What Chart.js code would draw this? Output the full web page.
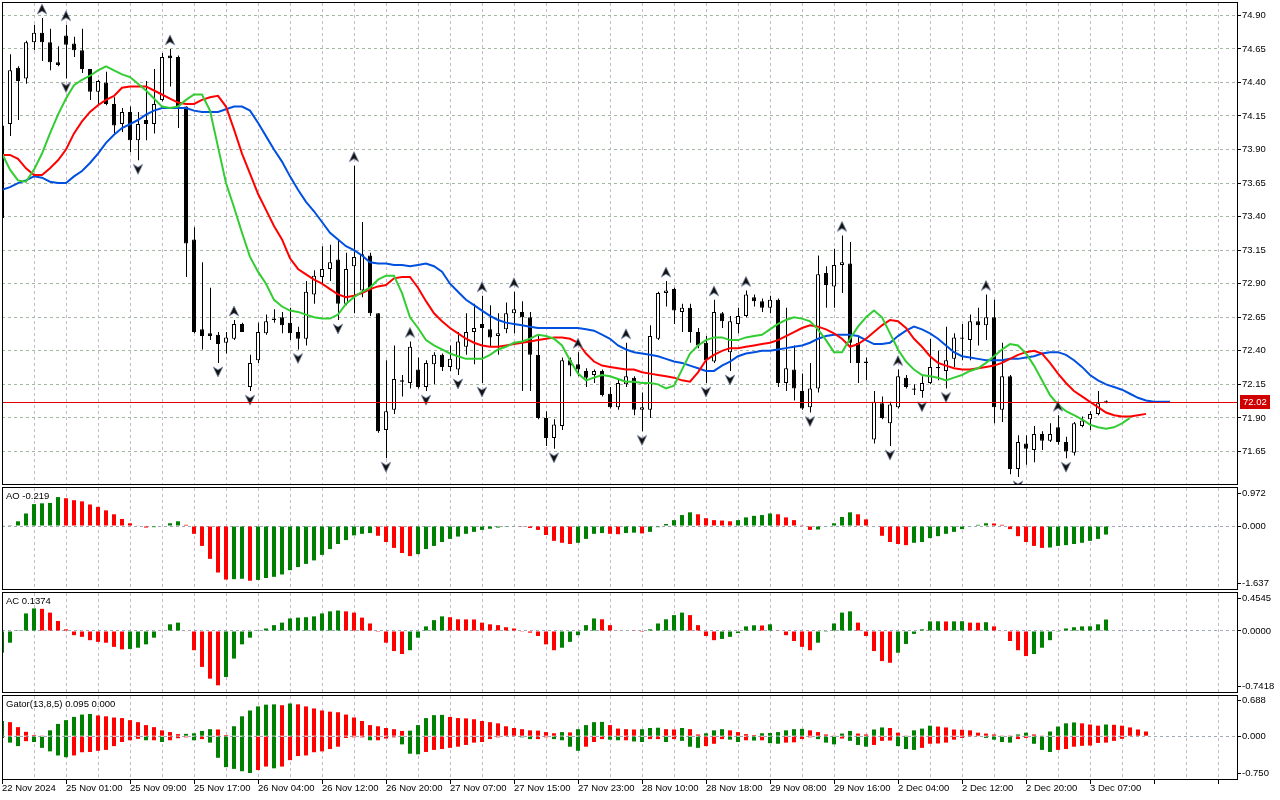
<!DOCTYPE html>
<html>
<head>
<meta charset="utf-8">
<title>Brent H1 - Alligator, Fractals, AO, AC, Gator</title>
<style>
  html, body { margin: 0; padding: 0; background: #fff; }
  body { width: 1280px; height: 800px; position: relative; overflow: hidden; }
  canvas { position: absolute; left: 0; }
</style>
<script src="https://cdn.jsdelivr.net/npm/chart.js@4.4.1/dist/chart.umd.min.js"></script>
</head>
<body>
<canvas id="main" width="1280" height="487" style="top:0"></canvas>
<canvas id="ao" width="1280" height="105" style="top:487px"></canvas>
<canvas id="ac" width="1280" height="102" style="top:592px"></canvas>
<canvas id="gator" width="1280" height="106" style="top:694px"></canvas>
<script>
// ---- data ----
const timeLabels = ['22 Nov 2024','25 Nov 01:00','25 Nov 09:00','25 Nov 17:00','26 Nov 04:00','26 Nov 12:00',
  '26 Nov 20:00','27 Nov 07:00','27 Nov 15:00','27 Nov 23:00','28 Nov 10:00','28 Nov 18:00',
  '29 Nov 08:00','29 Nov 16:00','2 Dec 04:00','2 Dec 12:00','2 Dec 20:00','3 Dec 07:00'];

const priceTicks = [74.90,74.65,74.40,74.15,73.90,73.65,73.40,73.15,72.90,72.65,72.40,72.15,71.90,71.65];

const open = [73.39,74.09,74.51,74.43,74.70,74.77,74.70,74.55,74.75,74.69,
  74.64,74.50,74.33,74.40,74.24,74.09,74.18,73.97,74.12,74.09,
  74.27,74.60,74.59,74.22,73.23,72.56,72.53,72.52,72.46,72.49,
  72.60,72.13,72.33,72.53,72.64,72.65,72.61,72.54,72.49,72.82,
  72.95,73.01,73.08,72.75,73.03,72.85,73.11,72.68,71.81,71.96,
  72.18,72.16,72.26,72.13,72.30,72.37,72.28,72.26,72.43,72.54,
  72.60,72.56,72.51,72.56,72.68,72.69,72.65,72.37,71.90,71.75,
  71.84,72.33,72.30,72.25,72.22,72.25,72.08,71.98,72.15,72.20,
  71.96,71.96,72.49,72.83,72.86,72.69,72.72,72.54,72.46,72.32,
  72.68,72.39,72.60,72.66,72.80,72.77,72.72,72.78,72.16,72.26,
  72.10,71.98,72.12,72.98,72.88,73.04,73.05,72.46,72.32,71.74,
  72.01,71.86,71.98,72.20,72.12,72.10,72.16,72.27,72.25,72.34,
  72.50,72.48,72.62,72.59,72.65,71.96,72.21,71.52,71.71,71.66,
  71.78,71.73,71.83,71.72,71.64,71.84,71.89,71.93,72.02];
const high = [74.15,74.61,74.52,74.71,74.83,74.88,74.80,74.67,74.83,74.74,
  74.80,74.50,74.42,74.48,74.29,74.21,74.22,74.18,74.41,74.50,
  74.62,74.65,74.60,74.22,73.32,73.06,72.87,72.54,72.54,72.63,
  72.61,72.37,72.61,72.67,72.71,72.69,72.72,72.58,72.92,73.00,
  73.18,73.19,73.22,73.13,73.78,73.36,73.13,72.68,72.33,72.44,
  72.22,72.47,72.35,72.33,72.39,72.38,72.44,72.54,72.68,72.75,
  72.81,72.74,72.68,72.76,72.84,72.77,72.69,72.52,71.95,71.89,
  72.35,72.35,72.39,72.27,72.26,72.26,72.13,72.19,72.46,72.21,
  72.09,72.59,72.84,72.92,72.87,72.75,72.75,72.57,72.51,72.78,
  72.69,72.66,72.72,72.85,72.82,72.79,72.81,72.79,72.72,72.44,
  72.23,72.31,73.11,73.03,73.16,73.26,73.21,72.51,72.35,72.10,
  72.06,72.02,72.26,72.22,72.15,72.21,72.49,72.40,72.58,72.53,
  72.60,72.67,72.72,72.82,72.78,72.46,72.22,71.77,71.77,71.84,
  71.80,71.86,71.92,71.76,71.87,71.91,71.95,72.10,72.03];
const low = [73.35,74.00,74.12,74.39,74.64,74.56,74.49,74.52,74.43,74.59,
  74.47,74.27,74.24,74.23,74.02,74.03,73.88,73.82,73.97,74.02,
  74.26,74.37,74.06,72.95,72.53,72.41,72.48,72.31,72.38,72.48,
  72.54,72.10,72.31,72.52,72.61,72.53,72.48,72.41,72.44,72.75,
  72.90,72.92,72.63,72.74,72.68,72.80,72.66,71.79,71.60,71.93,
  72.06,72.12,72.12,72.10,72.15,72.25,72.25,72.22,72.37,72.30,
  72.16,72.43,72.37,72.53,72.53,72.10,72.10,71.89,71.69,71.67,
  71.81,72.21,72.21,72.13,72.16,72.06,71.97,71.96,72.13,71.92,
  71.80,71.90,72.48,72.73,72.60,72.54,72.46,72.42,72.16,72.31,
  72.57,72.25,72.53,72.65,72.73,72.69,72.68,72.13,72.10,72.03,
  71.96,71.94,72.09,72.72,72.72,72.83,72.31,72.16,72.18,71.71,
  71.89,71.69,71.97,72.12,72.07,72.05,72.15,72.18,72.12,72.28,
  72.33,72.33,72.44,72.48,71.86,71.87,71.48,71.46,71.55,71.57,
  71.66,71.72,71.70,71.60,71.62,71.83,71.81,71.92,72.01];
const close = [74.08,74.49,74.41,74.70,74.77,74.70,74.55,74.53,74.68,74.64,
  74.50,74.33,74.41,74.24,74.08,74.18,73.97,74.09,74.09,74.24,
  74.59,74.58,74.22,73.20,72.54,72.51,72.51,72.45,72.50,72.60,
  72.54,72.31,72.54,72.62,72.63,72.59,72.53,72.49,72.84,72.96,
  73.01,73.06,72.75,73.01,73.10,73.12,72.68,71.80,71.95,72.19,
  72.17,72.43,72.13,72.31,72.37,72.28,72.34,72.47,72.54,72.57,
  72.57,72.50,72.53,72.68,72.71,72.65,72.37,71.90,71.75,71.85,
  72.33,72.29,72.26,72.20,72.25,72.07,71.98,72.16,72.21,71.96,
  71.98,72.51,72.83,72.85,72.70,72.72,72.54,72.44,72.33,72.69,
  72.62,72.62,72.66,72.82,72.77,72.72,72.78,72.16,72.27,72.12,
  71.97,72.12,72.97,72.89,73.04,73.06,72.46,72.31,72.31,72.02,
  71.90,72.00,72.21,72.13,72.11,72.16,72.28,72.28,72.33,72.50,
  72.49,72.62,72.59,72.65,71.98,72.21,71.52,71.72,71.67,71.78,
  71.73,71.78,71.72,71.65,71.86,71.88,71.93,72.01,72.02];

// Alligator lines as drawn (already shifted forward)
const jaw = [73.60,73.62,73.65,73.67,73.70,73.69,73.66,73.65,73.65,73.70,
  73.74,73.80,73.87,73.95,74.01,74.06,74.09,74.12,74.16,74.19,
  74.21,74.21,74.21,74.21,74.19,74.18,74.18,74.18,74.20,74.22,
  74.22,74.19,74.10,74.00,73.90,73.81,73.70,73.60,73.51,73.44,
  73.36,73.28,73.23,73.18,73.15,73.11,73.06,73.05,73.05,73.04,
  73.04,73.03,73.04,73.05,73.03,72.99,72.90,72.84,72.78,72.74,
  72.70,72.66,72.63,72.61,72.60,72.59,72.58,72.57,72.57,72.57,
  72.57,72.57,72.57,72.56,72.55,72.52,72.49,72.44,72.41,72.39,
  72.38,72.37,72.36,72.34,72.32,72.31,72.29,72.27,72.25,72.25,
  72.29,72.32,72.36,72.38,72.39,72.40,72.40,72.41,72.42,72.43,
  72.44,72.46,72.49,72.51,72.52,72.52,72.52,72.51,72.48,72.45,
  72.45,72.46,72.51,72.55,72.58,72.56,72.53,72.49,72.44,72.39,
  72.36,72.35,72.34,72.33,72.33,72.33,72.34,72.34,72.35,72.36,
  72.38,72.39,72.39,72.37,72.33,72.28,72.22,72.18,72.15,72.13,
  72.11,72.08,72.05,72.03,72.02,72.02,72.02];
const teeth = [73.86,73.86,73.83,73.76,73.71,73.71,73.76,73.82,73.90,74.02,
  74.11,74.18,74.23,74.27,74.30,74.36,74.37,74.37,74.37,74.34,
  74.31,74.28,74.25,74.24,74.24,74.27,74.29,74.30,74.22,74.05,
  73.87,73.72,73.57,73.45,73.33,73.23,73.09,73.01,72.97,72.93,
  72.90,72.86,72.82,72.80,72.81,72.83,72.86,72.88,72.89,72.94,
  72.95,72.95,72.87,72.77,72.68,72.62,72.57,72.53,72.49,72.46,
  72.44,72.43,72.43,72.44,72.45,72.46,72.47,72.48,72.49,72.50,
  72.50,72.49,72.46,72.38,72.32,72.29,72.28,72.27,72.26,72.26,
  72.24,72.23,72.22,72.21,72.20,72.18,72.17,72.24,72.33,72.37,
  72.40,72.42,72.42,72.43,72.44,72.45,72.46,72.48,72.51,72.54,
  72.57,72.59,72.58,72.56,72.53,72.49,72.43,72.45,72.49,72.54,
  72.59,72.63,72.62,72.57,72.49,72.43,72.36,72.31,72.29,72.27,
  72.26,72.26,72.27,72.28,72.29,72.31,72.34,72.37,72.39,72.40,
  72.38,72.31,72.23,72.16,72.10,72.06,72.02,71.98,71.94,71.92,
  71.91,71.91,71.92,71.93];
const lips = [73.87,73.75,73.67,73.66,73.75,73.87,74.02,74.16,74.28,74.38,
  74.42,74.45,74.49,74.52,74.49,74.46,74.44,74.39,74.34,74.28,
  74.22,74.21,74.22,74.27,74.31,74.31,74.19,73.92,73.65,73.47,
  73.28,73.10,72.99,72.90,72.78,72.73,72.70,72.69,72.67,72.65,
  72.64,72.64,72.67,72.75,72.80,72.84,72.87,72.93,72.96,72.96,
  72.83,72.65,72.57,72.48,72.44,72.41,72.38,72.36,72.34,72.34,
  72.34,72.37,72.41,72.43,72.46,72.47,72.49,72.52,72.51,72.49,
  72.44,72.33,72.23,72.18,72.20,72.22,72.21,72.19,72.17,72.17,
  72.16,72.16,72.15,72.12,72.14,72.26,72.38,72.44,72.48,72.50,
  72.50,72.48,72.48,72.50,72.51,72.52,72.56,72.60,72.63,72.65,
  72.64,72.62,72.56,72.48,72.39,72.39,72.49,72.58,72.65,72.70,
  72.65,72.53,72.41,72.32,72.26,72.22,72.21,72.20,72.18,72.20,
  72.22,72.25,72.27,72.31,72.36,72.41,72.45,72.44,72.38,72.29,
  72.18,72.07,72.00,71.95,71.92,71.89,71.85,71.83,71.82,71.83,
  71.86,71.90];

// bar indexes carrying a fractal
const fractalUp = [5,8,21,29,44,51,60,64,72,78,83,89,93,105,112,123,132];
const fractalDown = [8,17,27,31,37,42,48,53,57,60,69,80,88,91,101,111,115,118,127,133];

const ao = [0.005,0.02,0.12,0.32,0.56,0.58,0.59,0.74,0.71,0.66,
  0.63,0.55,0.49,0.40,0.30,0.18,0.07,0.01,-0.04,-0.03,
  0.00,0.07,0.12,0.03,-0.20,-0.51,-0.84,-1.19,-1.37,-1.36,
  -1.35,-1.40,-1.38,-1.33,-1.30,-1.24,-1.13,-1.05,-0.97,-0.88,
  -0.74,-0.59,-0.46,-0.36,-0.24,-0.20,-0.18,-0.25,-0.41,-0.56,
  -0.69,-0.77,-0.72,-0.59,-0.51,-0.41,-0.33,-0.27,-0.20,-0.15,
  -0.10,-0.07,-0.04,-0.02,-0.01,-0.02,-0.05,-0.10,-0.23,-0.38,
  -0.43,-0.46,-0.43,-0.33,-0.20,-0.18,-0.20,-0.21,-0.18,-0.17,
  -0.19,-0.15,-0.03,0.05,0.15,0.28,0.35,0.30,0.20,0.15,
  0.14,0.12,0.15,0.22,0.26,0.28,0.32,0.30,0.22,0.15,
  0.02,-0.10,-0.09,-0.01,0.07,0.23,0.35,0.30,0.17,0.00,
  -0.25,-0.41,-0.46,-0.49,-0.43,-0.41,-0.31,-0.26,-0.20,-0.15,
  -0.08,-0.01,0.03,0.07,0.065,0.03,-0.08,-0.26,-0.41,-0.51,
  -0.56,-0.55,-0.51,-0.49,-0.46,-0.43,-0.38,-0.33,-0.219];
const ac = [-0.26,-0.14,0.01,0.21,0.27,0.265,0.22,0.12,0.02,-0.05,
  -0.07,-0.11,-0.13,-0.14,-0.19,-0.22,-0.215,-0.20,-0.16,-0.08,
  0.00,0.08,0.10,-0.005,-0.23,-0.43,-0.57,-0.65,-0.55,-0.33,
  -0.16,-0.08,0.01,0.03,0.07,0.10,0.15,0.16,0.165,0.175,
  0.21,0.235,0.245,0.235,0.22,0.16,0.09,-0.01,-0.14,-0.24,
  -0.275,-0.23,-0.08,0.055,0.13,0.175,0.165,0.14,0.139,0.138,
  0.10,0.08,0.07,0.045,0.03,-0.003,-0.02,-0.06,-0.16,-0.23,
  -0.20,-0.13,-0.05,0.07,0.15,0.14,0.07,0.005,0.006,0.003,
  -0.01,0.02,0.09,0.14,0.19,0.22,0.19,0.07,-0.06,-0.11,
  -0.095,-0.07,-0.025,0.055,0.068,0.066,0.08,0.008,-0.05,-0.12,
  -0.19,-0.23,-0.14,-0.01,0.09,0.22,0.235,0.10,-0.06,-0.24,
  -0.36,-0.38,-0.26,-0.155,-0.035,0.02,0.115,0.116,0.114,0.115,
  0.117,0.10,0.099,0.105,0.055,-0.005,-0.12,-0.23,-0.30,-0.275,
  -0.20,-0.11,-0.003,0.03,0.045,0.055,0.056,0.08,0.1374];
const gatorUpper = [0.26,0.24,0.155,0.075,0.02,0.005,0.10,0.21,0.275,0.33,
  0.37,0.38,0.355,0.34,0.32,0.31,0.275,0.24,0.19,0.155,
  0.10,0.07,0.035,0.04,0.05,0.09,0.12,0.115,0.02,0.17,
  0.34,0.44,0.51,0.54,0.545,0.53,0.56,0.545,0.51,0.475,
  0.44,0.42,0.41,0.37,0.32,0.26,0.19,0.17,0.14,0.12,
  0.09,0.095,0.19,0.31,0.36,0.365,0.33,0.31,0.305,0.29,
  0.26,0.24,0.22,0.17,0.14,0.12,0.10,0.095,0.07,0.05,
  0.07,0.065,0.12,0.19,0.24,0.245,0.19,0.13,0.12,0.115,
  0.12,0.14,0.145,0.12,0.115,0.14,0.12,0.03,0.05,0.10,
  0.12,0.10,0.07,0.035,0.02,0.05,0.055,0.07,0.10,0.12,
  0.125,0.10,0.07,0.03,0.005,0.045,0.09,0.045,0.03,0.115,
  0.15,0.14,0.06,0.005,0.10,0.13,0.18,0.165,0.15,0.115,
  0.11,0.10,0.06,0.045,0.03,0.005,0.004,0.03,0.06,0.03,
  0.005,0.08,0.165,0.22,0.235,0.22,0.20,0.18,0.20,0.195,
  0.18,0.15,0.115,0.08];
const gatorLower = [-0.03,-0.11,-0.17,-0.085,-0.10,-0.20,-0.26,-0.33,-0.36,-0.33,
  -0.275,-0.27,-0.25,-0.235,-0.17,-0.10,-0.07,-0.045,-0.07,-0.07,
  -0.10,-0.07,-0.035,-0.02,-0.07,-0.05,-0.11,-0.37,-0.53,-0.56,
  -0.60,-0.63,-0.58,-0.52,-0.55,-0.52,-0.41,-0.34,-0.33,-0.275,
  -0.26,-0.22,-0.18,-0.03,-0.02,-0.02,-0.07,-0.07,-0.04,-0.02,
  -0.14,-0.30,-0.31,-0.27,-0.235,-0.22,-0.20,-0.18,-0.15,-0.11,
  -0.10,-0.05,-0.02,-0.01,-0.01,-0.02,-0.05,-0.05,-0.02,-0.05,
  -0.07,-0.18,-0.25,-0.18,-0.10,-0.05,-0.06,-0.07,-0.07,-0.09,
  -0.10,-0.05,-0.05,-0.10,-0.05,-0.08,-0.18,-0.20,-0.17,-0.13,
  -0.05,-0.06,-0.10,-0.07,-0.075,-0.07,-0.12,-0.13,-0.11,-0.105,
  -0.05,-0.02,-0.05,-0.11,-0.14,-0.04,-0.08,-0.15,-0.18,-0.15,
  -0.08,-0.075,-0.17,-0.22,-0.235,-0.20,-0.13,-0.125,-0.11,-0.06,
  -0.03,-0.005,-0.01,-0.03,-0.06,-0.10,-0.11,-0.05,-0.03,-0.13,
  -0.235,-0.27,-0.235,-0.22,-0.18,-0.165,-0.16,-0.115,-0.11,-0.08,
  -0.045,-0.01];

// ---- look ----
const GREEN = '#008000', RED = '#ff0000';
const X_MAX = 154.375;   // 8 px per bar over a 1235 px plot
const AXIS_W = 43;
const TEXT_FONT = '9.5px "Liberation Sans", Arial, sans-serif';
Chart.defaults.font.family = '"Liberation Sans", Arial, sans-serif';
Chart.defaults.font.size = 9.5;
Chart.defaults.color = '#000';

// keep the axes from asking for room round the plot
function noPad(s) {
  s.paddingTop = 0; s.paddingBottom = 0; s.paddingLeft = 0; s.paddingRight = 0;
}

const frame = {
  id: 'frame',
  afterDraw(chart, args, opts) {
    const { ctx, chartArea: a } = chart;
    ctx.save();
    ctx.strokeStyle = '#000';
    ctx.lineWidth = 1;
    ctx.strokeRect(a.left + 0.5, a.top - 0.5, a.right - a.left, a.bottom - a.top);
    if (opts.title) {
      ctx.fillStyle = '#000';
      ctx.font = TEXT_FONT;
      ctx.textBaseline = 'middle';
      ctx.fillText(opts.title, a.left + 4, a.top + 8.5);
    }
    ctx.restore();
  }
};

const lastPrice = {
  id: 'lastPrice',
  afterDatasetsDraw(chart) {
    const { ctx, chartArea: a, scales } = chart;
    const py = Math.round(scales.y.getPixelForValue(close[close.length - 1])) + 0.5;
    ctx.save();
    ctx.strokeStyle = '#e00000';
    ctx.lineWidth = 1;
    ctx.beginPath();
    ctx.moveTo(a.left, py);
    ctx.lineTo(a.right, py);
    ctx.stroke();
    ctx.restore();
  },
  afterDraw(chart) {
    const { ctx, chartArea: a, scales } = chart;
    const last = close[close.length - 1];
    const py = Math.round(scales.y.getPixelForValue(last));
    ctx.save();
    ctx.fillStyle = '#d00000';
    ctx.fillRect(a.right + 3, py - 7, 30, 14);
    ctx.fillStyle = '#fff';
    ctx.font = TEXT_FONT;
    ctx.textBaseline = 'middle';
    ctx.fillText(last.toFixed(2), a.right + 6, py + 0.5);
    ctx.restore();
  }
};

function timeAxis(withLabels) {
  return {
    type: 'linear', min: 0, max: X_MAX, offset: false,
    afterFit: s => { s.height = withLabels ? 20 : 0; noPad(s); },
    border: { display: false, dash: [3, 3] },
    grid: {
      offset: false, color: '#c8b8cc', drawTicks: withLabels, tickLength: 4,
      tickBorderDash: [],
      tickColor: c => (c.tick && c.tick.value % 8 === 0) ? '#000' : 'rgba(0,0,0,0)'
    },
    ticks: {
      display: withLabels, stepSize: 4, includeBounds: false, autoSkip: false,
      maxRotation: 0, align: 'start', padding: 0, font: { lineHeight: 1 },
      callback: v => (v % 8 === 0 && timeLabels[v / 8]) ? timeLabels[v / 8] : ''
    }
  };
}

// fractal mark: the arrow sits ~9 px off the high/low the point is placed at
function arrowImage(up) {
  const c = document.createElement('canvas');
  c.width = 14; c.height = 40;
  const g = c.getContext('2d');
  g.translate(7, up ? 11 : 29);
  if (!up) g.scale(1, -1);
  g.beginPath();
  g.moveTo(0, -5); g.lineTo(4.8, 5); g.lineTo(0, 2); g.lineTo(-4.8, 5);
  g.closePath();
  g.fillStyle = '#111'; g.fill();
  g.strokeStyle = '#7888a8'; g.lineWidth = 0.7; g.stroke();
  return c;
}

const lineSet = (vals, color, order) => ({
  type: 'line', data: vals.map((v, k) => ({ x: k, y: v })), borderColor: color,
  borderWidth: 2, pointRadius: 0, tension: 0, order, clip: 0
});

// ---- main price pane ----
new Chart(document.getElementById('main'), {
  type: 'bar',
  data: {
    datasets: [
      { type: 'line', data: fractalUp.map(k => ({ x: k, y: high[k] })), showLine: false,
        pointStyle: arrowImage(true), pointRadius: 4, order: 0, clip: 0 },
      { type: 'line', data: fractalDown.map(k => ({ x: k, y: low[k] })), showLine: false,
        pointStyle: arrowImage(false), pointRadius: 4, order: 0, clip: 0 },
      lineSet(lips, '#32cd32', 1),
      lineSet(teeth, '#ff0000', 2),
      lineSet(jaw, '#0050e0', 3),
      { data: open.map((o, k) => ({ x: k, y: [o, close[k]] })), barThickness: 4, grouped: false,
        backgroundColor: c => close[c.dataIndex] >= open[c.dataIndex] ? '#fff' : '#000',
        borderColor: '#000', borderWidth: 1, borderSkipped: false, minBarLength: 1,
        inflateAmount: 0, order: 4, clip: 0 },
      { data: low.map((l, k) => ({ x: k, y: [l, high[k]] })), xAxisID: 'xw', barThickness: 1,
        grouped: false, backgroundColor: '#000', borderWidth: 0, inflateAmount: 0, order: 5, clip: 0 }
    ]
  },
  options: {
    responsive: false, animation: false, devicePixelRatio: 1, events: [],
    layout: { padding: { left: 2, right: 0, top: 3, bottom: 2 }, autoPadding: false },
    plugins: { legend: { display: false }, tooltip: { enabled: false }, frame: {} },
    scales: {
      x: timeAxis(false),
      // wicks sit half a pixel right so a 1 px bar lands on whole pixels
      xw: {
        type: 'linear', position: 'bottom', min: -0.0625, max: X_MAX - 0.0625, offset: false,
        afterFit: s => { s.height = 0; noPad(s); },
        border: { display: false }, grid: { display: false, drawTicks: false }, ticks: { display: false }
      },
      y: {
        position: 'right', min: 71.40, max: 74.992,
        afterFit: s => { s.width = AXIS_W; noPad(s); },
        afterBuildTicks: s => { s.ticks = priceTicks.map(v => ({ value: v })); },
        border: { display: false, dash: [3, 3] },
        grid: { color: '#a4b8a4', tickLength: 4, tickColor: '#000', tickBorderDash: [] },
        ticks: { padding: 1, autoSkip: false, callback: v => v.toFixed(2) }
      }
    }
  },
  plugins: [frame, lastPrice]
});

// ---- indicator panes ----
function upDown(values, useAbs) {
  return c => {
    const k = c.dataIndex;
    if (k === 0) return GREEN;
    const a = useAbs ? Math.abs(values[k]) : values[k];
    const b = useAbs ? Math.abs(values[k - 1]) : values[k - 1];
    return a > b ? GREEN : RED;
  };
}

function histogram(values, useAbs) {
  return { type: 'bar', data: values.map((v, k) => ({ x: k, y: v })), backgroundColor: upDown(values, useAbs),
    barThickness: 4, grouped: false, borderWidth: 0, inflateAmount: 0, clip: 0 };
}

function pane(id, title, lo, hi, digits, datasets, pad, withTime) {
  return new Chart(document.getElementById(id), {
    type: 'bar',
    data: { datasets },
    options: {
      responsive: false, animation: false, devicePixelRatio: 1, events: [],
      layout: { padding: pad, autoPadding: false },
      plugins: { legend: { display: false }, tooltip: { enabled: false }, frame: { title } },
      scales: {
        x: timeAxis(withTime),
        y: {
          position: 'right', min: lo, max: hi,
          afterFit: s => { s.width = AXIS_W; noPad(s); },
          afterBuildTicks: s => { s.ticks = [lo, 0, hi].map(v => ({ value: v })); },
          afterUpdate: s => {
            // pull the end labels inside the pane, as the terminal does
            const d = (s.max - s.min) / s.height;
            s.ticks[0].value = s.min + 6 * d;
            s.ticks[2].value = s.max - 4.5 * d;
          },
          border: { display: false, dash: [3, 3] },
          grid: {
            color: c => (c.tick && c.tick.value === 0) ? '#9fa9ba' : 'rgba(0,0,0,0)',
            tickLength: 4, tickColor: '#000', tickBorderDash: []
          },
          ticks: { padding: 1, autoSkip: false, callback: v => v.toFixed(digits) }
        }
      }
    },
    plugins: [frame]
  });
}

pane('ao', 'AO ' + ao[ao.length - 1].toFixed(3), -1.637, 0.972, 3,
  [histogram(ao, false)], { left: 2, right: 0, top: 1, bottom: 2 }, false);
pane('ac', 'AC ' + ac[ac.length - 1].toFixed(4), -0.7418, 0.4545, 4,
  [histogram(ac, false)], { left: 2, right: 0, top: 1, bottom: 1 }, false);
pane('gator', 'Gator(13,8,5) 0.095 0.000', -0.750, 0.688, 3,
  [histogram(gatorUpper, false), histogram(gatorLower, true)], { left: 2, right: 0, top: 2, bottom: 0 }, true);
</script>
</body>
</html>
